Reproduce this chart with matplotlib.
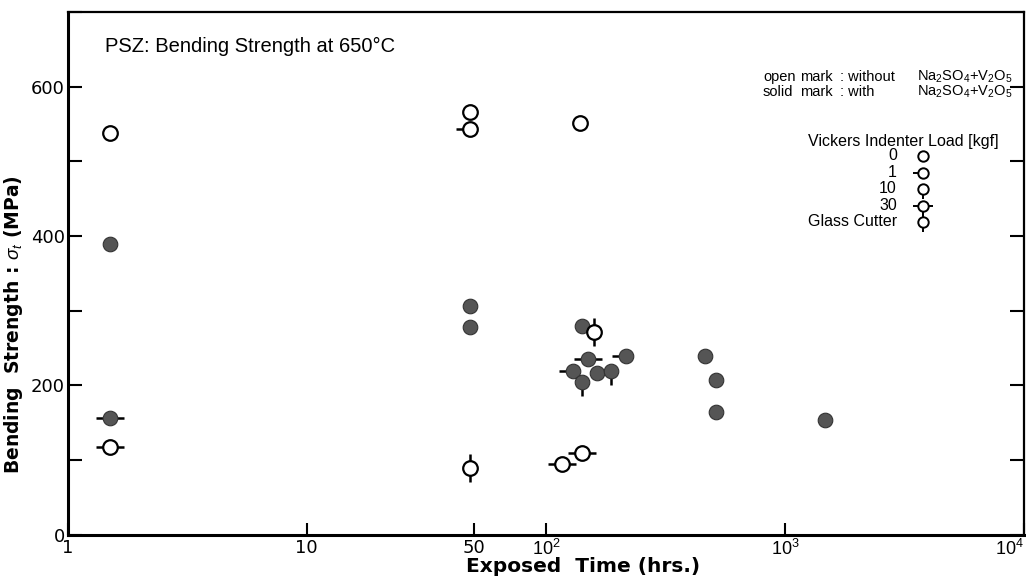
import matplotlib
matplotlib.use('Agg')
import matplotlib.pyplot as plt
from matplotlib.path import Path

plt.rcParams['mathtext.fontset'] = 'custom'
plt.rcParams['mathtext.rm'] = 'Liberation Sans'
plt.rcParams['mathtext.it'] = 'Liberation Sans:italic'

# open marks: without Na2SO4+V2O5
open_time = [1.5, 1.5, 48, 48, 48, 139, 159, 141, 117]
open_strength = [538, 118, 566, 544, 90, 552, 271, 110, 95]
open_load = ['0', '30', '0', '1', 'gc', '0', 'gc', '30', '30']

# solid marks: with Na2SO4+V2O5
solid_time = [1.5, 1.5, 48, 48, 141, 150, 130, 163, 141, 187, 216, 462, 514, 517, 1470]
solid_strength = [390, 157, 307, 278, 280, 235, 220, 217, 205, 219, 240, 239, 207, 165, 154]
solid_load = ['0', '30', '0', '0', '0', '30', '1', '0', '10', '10', '1', '0', '0', '0', '0']

legend_loads = ['0', '1', '10', '30x', 'gc']
legend_names = ['0', '1', '10', '30', 'Glass Cutter']

x_ticks = [1, 10, 50, 100, 1000, 10000]
x_ticklabels = ['1', '10', '50', '$10^2$', '$10^3$', '$10^4$']
y_ticks = [0, 200, 400, 600]

L = 1.9


def stub_path(parts):
    seg = {'l': [(-1, 0), (-L, 0)], 'r': [(1, 0), (L, 0)],
           'u': [(0, 1), (0, L)], 'd': [(0, -1), (0, -L)]}
    verts, codes = [], []
    for p in parts:
        verts += seg[p]
        codes += [Path.MOVETO, Path.LINETO]
    return Path(verts, codes)


stub_parts = {'0': '', '1': 'l', '10': 'd', '30': 'lr', '30x': 'lrd', 'gc': 'ud'}


def draw_marks(ax, x, y, load, face, ms=10.5):
    for xi, yi, ld in zip(x, y, load):
        parts = stub_parts[ld]
        if parts:
            ax.plot([xi], [yi], linestyle='none', marker=stub_path(parts),
                    markersize=ms * L, markerfacecolor='none', markeredgecolor='black',
                    markeredgewidth=1.8, zorder=3)
        ax.plot([xi], [yi], linestyle='none', marker='o', markersize=ms,
                markerfacecolor=face, markeredgecolor='black' if face == 'white' else '#333333',
                markeredgewidth=1.6 if face == 'white' else 0.8, zorder=4)


fig = plt.figure(figsize=(10.26, 5.8), dpi=100)
ax = fig.add_axes([0.066, 0.078, 0.932, 0.901])
ax.set_xscale('log')
ax.set_xlim(1, 10000)
ax.set_ylim(0, 700)

draw_marks(ax, solid_time, solid_strength, solid_load, '#555555')
draw_marks(ax, open_time, open_strength, open_load, 'white')

for s in ax.spines.values():
    s.set_linewidth(1.6)
ax.spines['left'].set_linewidth(2.2)
ax.spines['bottom'].set_linewidth(2.2)

ax.set_xticks(x_ticks)
ax.set_xticklabels(x_ticklabels, fontsize=13, family='DejaVu Sans')
ax.get_xticklabels()[-1].set_ha('right')
ax.xaxis.set_minor_locator(matplotlib.ticker.NullLocator())
ax.tick_params(axis='x', direction='in', length=9, width=1.5, pad=3)
ax.set_yticks(y_ticks)
ax.set_yticklabels([str(v) for v in y_ticks], fontsize=13, family='DejaVu Sans')
ax.set_yticks([100, 300, 500, 700], minor=True)
ax.tick_params(axis='y', which='both', direction='in', length=10, width=1.5,
               right=True, pad=2)

fig.text(0.568, 0.023, 'Exposed  Time (hrs.)', ha='center', va='center',
         fontsize=14.5, fontweight='bold', family='DejaVu Sans')
fig.text(0.013, 0.44, 'Bending  Strength : $\\sigma_t$ (MPa)', rotation=90,
         ha='center', va='center', fontsize=13.5, fontweight='bold', family='DejaVu Sans')

ax.text(0.039, 0.934, 'PSZ: Bending Strength at 650°C', transform=ax.transAxes,
        fontsize=14.5, family='Liberation Sans', va='center')

salt = 'Na$_2$SO$_4$+V$_2$O$_5$'
tf = dict(transform=ax.transAxes, fontsize=10.5, family='Liberation Sans', va='center')
ax.text(0.727, 0.876, 'open', **tf)
ax.text(0.766, 0.876, 'mark', **tf)
ax.text(0.808, 0.876, ': without', **tf)
ax.text(0.888, 0.876, salt, **tf)
ax.text(0.727, 0.847, 'solid', **tf)
ax.text(0.766, 0.847, 'mark', **tf)
ax.text(0.808, 0.847, ': with', **tf)
ax.text(0.888, 0.847, salt, **tf)
ax.text(0.774, 0.752, 'Vickers Indenter Load [kgf]', transform=ax.transAxes,
        fontsize=11.5, family='Liberation Sans', va='center')

leg_y = [0.725, 0.693, 0.662, 0.630, 0.599]
leg_x = [0.894] * len(leg_y)
tr = dict(transform=ax.transAxes, fontsize=11.5, family='Liberation Sans',
          va='center', ha='right')
for yy, name in zip(leg_y, legend_names):
    ax.text(0.867, yy, name, **tr)

for xx, yy, ld in zip(leg_x, leg_y, legend_loads):
    parts = stub_parts[ld]
    kw = dict(linestyle='none', transform=ax.transAxes, clip_on=False)
    if parts:
        ax.plot([xx], [yy], marker=stub_path(parts), markersize=7.5 * L,
                markerfacecolor='none', markeredgecolor='black', markeredgewidth=1.4, **kw)
    ax.plot([xx], [yy], marker='o', markersize=7.5, markerfacecolor='white',
            markeredgecolor='black', markeredgewidth=1.4, **kw)

fig.savefig('out.png', dpi=100)
